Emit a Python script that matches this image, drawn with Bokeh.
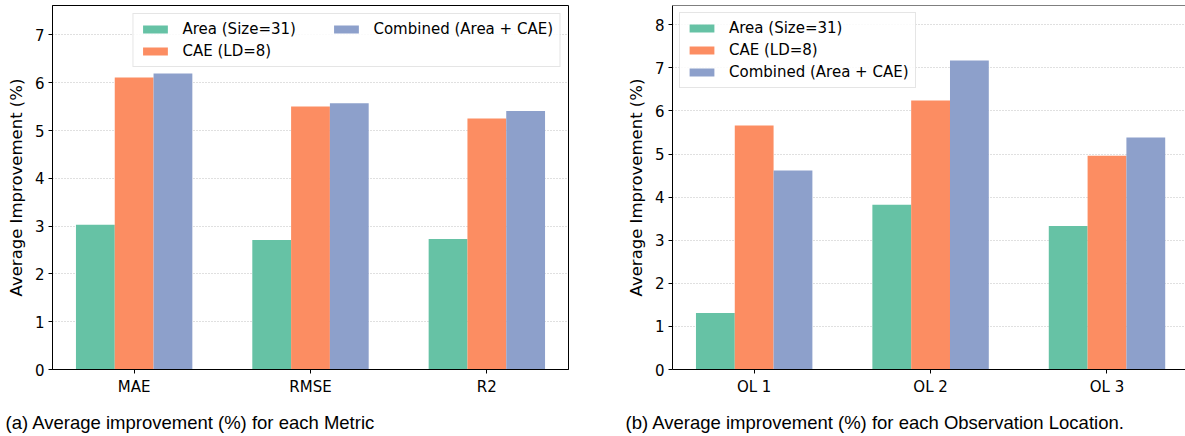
from bokeh.plotting import figure
from bokeh.layouts import row, column
from bokeh.models import ColumnDataSource, FixedTicker, Span, Legend, LegendItem
from bokeh.core.properties import value
from bokeh.transform import dodge
from bokeh.embed import file_html
from bokeh.resources import INLINE

# ---- data ----
metrics = ["MAE", "RMSE", "R2"]
metric_area = [3.03, 2.71, 2.73]
metric_cae = [6.11, 5.50, 5.25]
metric_combined = [6.19, 5.57, 5.41]

locations = ["OL 1", "OL 2", "OL 3"]
loc_area = [1.31, 3.82, 3.33]
loc_cae = [5.66, 6.24, 4.96]
loc_combined = [4.62, 7.17, 5.38]

series_names = ["Area (Size=31)", "CAE (LD=8)", "Combined (Area + CAE)"]
colors = ["#66c2a5", "#fc8d62", "#8da0cb"]
y_ticks_a = [0, 1, 2, 3, 4, 5, 6, 7]
y_ticks_b = [0, 1, 2, 3, 4, 5, 6, 7, 8]
captions = ["(a) Average improvement (%) for each Metric",
            "(b) Average improvement (%) for each Observation Location."]

BAR_W = 0.22
TICK_FONT = "DejaVu Sans"
PANEL_H = 410
CAPTION_H = 26


def make_panel(cats, vals, yticks, ymax, xend, width, border_left, border_right,
               legend_loc, legend_cols, legend_margin, outline):
    idx = list(range(len(cats)))
    src = ColumnDataSource(dict(idx=idx, a=vals[0], c=vals[1], m=vals[2]))
    p = figure(width=width, height=PANEL_H, x_range=(-0.463, xend), y_range=(0, ymax),
               output_backend="svg", toolbar_location=None,
               min_border_left=border_left, min_border_right=border_right,
               min_border_top=5, min_border_bottom=PANEL_H - 5 - 364)
    p.background_fill_color = "white"
    p.border_fill_color = "white"
    if outline:
        p.outline_line_color = "black"
        p.outline_line_alpha = 1.0
        p.outline_line_width = 1
    else:
        p.outline_line_color = None
        p.add_layout(Span(location=ymax, dimension="width", line_color="black", line_width=1))

    renderers = []
    for off, col, color in zip([-BAR_W, 0, BAR_W], ["a", "c", "m"], colors):
        r = p.vbar(x=dodge("idx", off), top=col, width=BAR_W, source=src,
                   fill_color=color, line_color=None)
        renderers.append(r)

    p.xaxis.ticker = FixedTicker(ticks=idx)
    p.xaxis.major_label_overrides = {i: c for i, c in enumerate(cats)}
    p.yaxis.ticker = FixedTicker(ticks=yticks)
    for ax in (p.xaxis[0], p.yaxis[0]):
        ax.axis_line_color = "black"
        ax.major_tick_line_color = "black"
        ax.major_tick_out = 4
        ax.major_tick_in = 0
        ax.minor_tick_line_color = None
        ax.major_label_text_font = TICK_FONT
        ax.major_label_text_font_size = "15px"
        ax.major_label_text_color = "black"
        ax.major_label_standoff = 4
    p.yaxis.axis_label = "Average Improvement (%)"
    p.yaxis.axis_label_text_font = TICK_FONT
    p.yaxis.axis_label_text_font_size = "16.5px"
    p.yaxis.axis_label_text_font_style = "normal"
    p.yaxis.axis_label_text_color = "black"
    p.yaxis.axis_label_standoff = 6

    p.xgrid.grid_line_color = None
    p.ygrid.grid_line_color = "#c0c0c0"
    p.ygrid.grid_line_dash = "1 2"
    p.ygrid.grid_line_width = 1

    items = [LegendItem(label=n, renderers=[r]) for n, r in zip(series_names, renderers)]
    leg = Legend(items=items, location=legend_loc, ncols=legend_cols,
                 orientation="vertical",
                 label_text_font=TICK_FONT, label_text_font_size="15px",
                 label_text_color="black",
                 glyph_width=31, glyph_height=10, label_height=18,
                 label_standoff=12, spacing=4, padding=6, margin=legend_margin,
                 border_line_color="#cccccc", border_line_width=1,
                 background_fill_color="white", background_fill_alpha=0.85)
    if legend_cols == 2:
        leg.label_width = 144
    p.add_layout(leg, "center")
    return p


pa = make_panel(metrics, [metric_area, metric_cae, metric_combined], y_ticks_a,
                364 / 47.8, 2.463, 608, 52, 40, "top_right", 2, 8, True)
pb = make_panel(locations, [loc_area, loc_cae, loc_combined], y_ticks_b,
                364 / 43.1, 2.445, 577, 64, 0, "top_left", 1, 7, False)

# caption strip under both panels
cap = figure(width=1185, height=CAPTION_H, x_range=(0, 1185), y_range=(0, CAPTION_H),
             output_backend="svg", toolbar_location=None,
             min_border_left=0, min_border_right=0, min_border_top=0, min_border_bottom=0)
cap.axis.visible = False
cap.grid.visible = False
cap.outline_line_color = None
cap_src = ColumnDataSource(dict(x=[5, 625], y=[14, 14], t=captions))
cap.text(x="x", y="y", text="t", source=cap_src, text_font=value("Liberation Sans"),
         text_font_size="18.5px", text_color="black",
         text_baseline="alphabetic", text_align="left")

layout = column(row(pa, pb), cap)
open("out.html", "w").write(file_html(layout, INLINE))
